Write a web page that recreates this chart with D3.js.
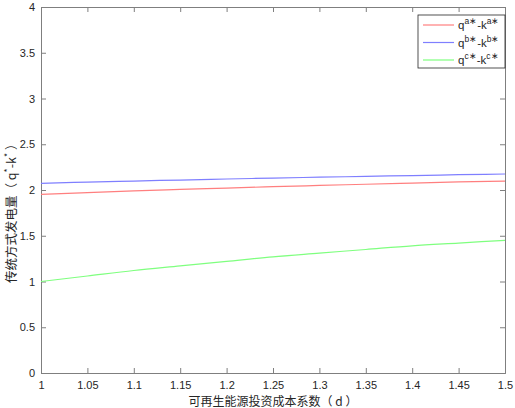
<!DOCTYPE html>
<meta charset="utf-8">
<script src="https://d3js.org/d3.v7.min.js"></script>
<style>
  body { margin: 0; background: #fff; }
  text { font-family: "Liberation Sans", Arial, sans-serif; fill: #262626; }
</style>
<div class="chart"></div>
<script>
  // data
  const dValues = [1, 1.05, 1.1, 1.15, 1.2, 1.25, 1.3, 1.35, 1.4, 1.45, 1.5];
  const seriesA = [1.953, 1.972, 1.99, 2.006, 2.021, 2.036, 2.05, 2.063, 2.076, 2.088, 2.098];
  const seriesB = [2.073, 2.086, 2.098, 2.109, 2.12, 2.13, 2.14, 2.149, 2.158, 2.167, 2.175];
  const seriesC = [1.00, 1.06, 1.12, 1.17, 1.22, 1.27, 1.31, 1.35, 1.39, 1.42, 1.45];
  const xTicks = [1, 1.05, 1.1, 1.15, 1.2, 1.25, 1.3, 1.35, 1.4, 1.45, 1.5];
  const yTicks = [0, 0.5, 1, 1.5, 2, 2.5, 3, 3.5, 4];
  const seriesNames = ["a", "b", "c"];
  const seriesColors = ["#ff7f7f", "#7f7fff", "#7fff7f"];

  const W = 515, H = 408;
  const m = {left: 41, right: 10, top: 7, bottom: 35};

  const svg = d3.select('.chart').append('svg')
    .attr('width', W).attr('height', H);

  const x = d3.scaleLinear().domain([1, 1.5]).range([m.left, W - m.right]);
  const y = d3.scaleLinear().domain([0, 4]).range([H - m.bottom, m.top]);

  const axisColor = "#7f7f7f";

  // axes with inward ticks, MATLAB style box
  const gx = svg.append('g').attr('transform', `translate(0,${H - m.bottom})`)
    .call(d3.axisBottom(x).tickValues(xTicks).tickSize(-5).tickPadding(8).tickFormat(d3.format('')));
  const gxTop = svg.append('g').attr('transform', `translate(0,${m.top})`)
    .call(d3.axisTop(x).tickValues(xTicks).tickSize(-5).tickFormat(''));
  const gy = svg.append('g').attr('transform', `translate(${m.left},0)`)
    .call(d3.axisLeft(y).tickValues(yTicks).tickSize(-5).tickPadding(6).tickFormat(d3.format('')));
  const gyRight = svg.append('g').attr('transform', `translate(${W - m.right},0)`)
    .call(d3.axisRight(y).tickValues(yTicks).tickSize(-5).tickFormat(''));

  [gx, gxTop, gy, gyRight].forEach(g => {
    g.selectAll('path').attr('stroke', axisColor);
    g.selectAll('line').attr('stroke', axisColor);
    g.selectAll('text').style('font-size', '11px').attr('fill', '#262626');
  });

  // lines
  const all = [seriesA, seriesB, seriesC];
  const line = d3.line().x((d, i) => x(dValues[i])).y(d => y(d)).curve(d3.curveMonotoneX);
  all.forEach((s, k) => {
    svg.append('path').datum(s)
      .attr('fill', 'none')
      .attr('stroke', seriesColors[k])
      .attr('stroke-width', 1.2)
      .attr('d', line);
  });

  // axis titles
  svg.append('text')
    .attr('x', 273).attr('y', 405.5)
    .attr('text-anchor', 'middle')
    .style('font-size', '12px')
    .style('font-family', '"Noto Sans CJK SC", sans-serif')
    .style('white-space', 'pre')
    .text('可再生能源投资成本系数（ d ）');

  const yl = svg.append('text')
    .attr('transform', `translate(16,283) rotate(-90)`)
    .attr('text-anchor', 'start')
    .style('font-size', '12.5px')
    .style('white-space', 'pre')
    .style('font-family', '"Noto Sans CJK SC", sans-serif');
  yl.append('tspan').text('传统方式发电量（ q');
  yl.append('tspan').attr('dy', -5).style('font-size', '9px').text('*');
  yl.append('tspan').attr('dy', 5).text('-k');
  yl.append('tspan').attr('dy', -5).style('font-size', '9px').text('*');
  yl.append('tspan').attr('dy', 5).text(' ）');

  // legend
  const lg = svg.append('g').attr('transform', 'translate(418,15)');
  lg.append('rect').attr('width', 87).attr('height', 53)
    .attr('fill', '#fff').attr('stroke', '#262626').attr('stroke-width', 0.8);
  seriesNames.forEach((n, k) => {
    const yy = 10 + k * 17.5;
    lg.append('line').attr('x1', 5).attr('x2', 36).attr('y1', yy).attr('y2', yy)
      .attr('stroke', seriesColors[k]).attr('stroke-width', 1.2);
    const t = lg.append('text').attr('x', 40).attr('y', yy + 4).style('font-size', '11.5px');
    t.append('tspan').text('q');
    t.append('tspan').attr('dy', -5).style('font-size', '8.5px').text(n + '∗');
    t.append('tspan').attr('dy', 5).text('-k');
    t.append('tspan').attr('dy', -5).style('font-size', '8.5px').text(n + '∗');
  });
</script>
